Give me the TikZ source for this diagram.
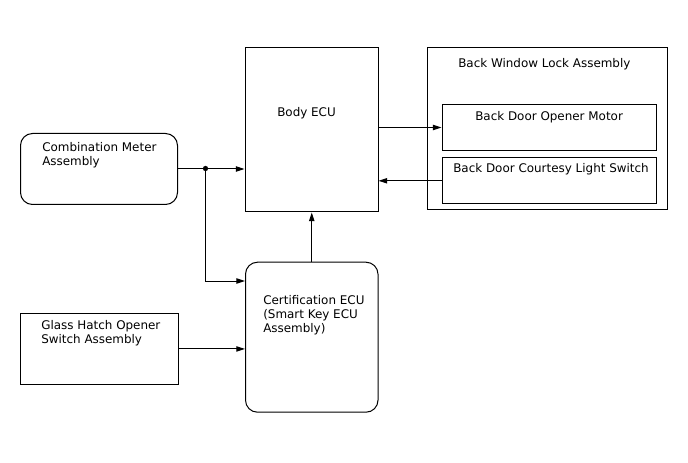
\documentclass[tikz,border=0pt]{standalone}
\usepackage{fontspec}
\setmainfont{DejaVu Sans}
\usetikzlibrary{arrows.meta}
\newcommand{\boxfont}{\fontsize{8.95}{10.4}\selectfont}

\begin{document}
\begin{tikzpicture}[
    x=0.75pt, y=-0.75pt,
    % Estilos de cajas
    unit box/.style={draw, line width=0.75pt, inner sep=0pt, anchor=north west},
    round box/.style={unit box, rounded corners=9pt},
    px size/.style 2 args={minimum width={#1*0.75pt}, minimum height={#2*0.75pt}},
    box text/.style={anchor=north west, inner sep=0pt, align=left, font=\boxfont},
    % Estilos de conexiones
    signal/.style={line width=0.75pt, -{Triangle[length=6.5pt,width=4pt]}},
    junction/.style={circle, fill=black, inner sep=1.4pt}
]
\useasboundingbox (0,0) rectangle (688,463);

% Cajas
\node[round box, px size={157}{71}] (comb) at (20,133) {};
\node[unit box, px size={133}{164.5}] (body) at (244.5,47) {};
\node[unit box, px size={240}{162}] (lock) at (426.5,47.3) {};
\node[unit box, px size={214.5}{46}] (opener) at (441.5,104) {};
\node[unit box, px size={214.5}{46}] (courtesy) at (441.5,157.3) {};
\node[unit box, px size={158}{71.5}] (glass) at (19.5,312.7) {};
\node[round box, px size={132.5}{150}] (cert) at (245,261.7) {};

% Textos
\node[box text] (comb text) at (42,142) {Combination Meter\\Assembly};
\node[box text] (body text) at (277,107) {Body ECU};
\node[box text] (lock text) at (458,58) {Back Window Lock Assembly};
\node[box text] (opener text) at (475,111) {Back Door Opener Motor};
\node[box text] (courtesy text) at (453,163) {Back Door Courtesy Light Switch};
\node[box text] (glass text) at (41,320) {Glass Hatch Opener\\Switch Assembly};
\node[box text] (cert text) at (263,295) {Certification ECU\\(Smart Key ECU\\Assembly)};

% Conexiones
\node[junction] (jn) at (205.5,168.5) {};
\coordinate (cert in) at (245,281);
\draw[signal] (comb.east) -- (comb.east -| body.west);
\draw[signal] (jn.center) |- (cert in);
\draw[signal] (glass.east) -- (glass.east -| cert.west);
\draw[signal] (cert.north) -- (cert.north |- body.south);
\draw[signal] (opener.west -| body.east) -- (opener.west);
\draw[signal] (courtesy.west) -- (courtesy.west -| body.east);

\end{tikzpicture}
\end{document}
